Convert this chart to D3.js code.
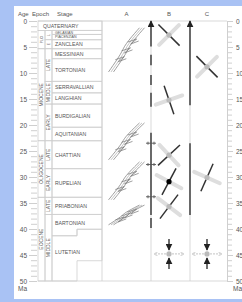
<!DOCTYPE html>
<html lang="en">
<head>
<meta charset="UTF-8">
<title>Stress history</title>
<script src="https://d3js.org/d3.v7.min.js"></script>
<style>
  body { margin: 0; background: #a9c2f4; font-family: 'Liberation Sans', Arial, sans-serif; }
  svg { display: block; }
</style>
</head>
<body>
<svg id="chart" width="242" height="302"></svg>
<script>
// ---- data ----
const majorTicks = [0, 5, 10, 15, 20, 25, 30, 35, 40, 45, 50];
const minorTicks = d3.range(0, 51, 1);

const quaternaryBase = 1.806;
const stageNames = ['GELASIAN','PIACENZIAN','ZANCLEAN','MESSINIAN','TORTONIAN','SERRAVALLIAN','LANGHIAN',
                    'BURDIGALIAN','AQUITANIAN','CHATTIAN','RUPELIAN','PRIABONIAN','BARTONIAN','LUTETIAN'];
const stageBase    = [2.588, 3.6, 5.332, 7.246, 11.608, 13.82, 15.97, 20.43, 23.03, 28.4, 33.9, 37.2, 41.3, 50];
const stageBaseAlt = [2.588, 3.6, 5.332, 7.246, 11.608, 13.82, 15.97, 20.43, 23.03, 28.4, 33.9, 37.2, 40.05, 46.1];

const epochNames = ['PLIO', 'MIOCENE', 'OLIGOCENE', 'EOCENE'];
const epochTop   = [1.806, 5.332, 23.03, 33.9];
const epochBase  = [5.332, 23.03, 33.9, 50];

const subNames = ['L', 'E', 'LATE', 'MIDDLE', 'EARLY', 'LATE', 'EARLY', 'LATE', 'MIDDLE'];
const subTop   = [1.806, 3.6, 5.332, 11.608, 15.97, 23.03, 28.4, 33.9, 37.2];
const subBase  = [3.6, 5.332, 11.608, 15.97, 23.03, 28.4, 33.9, 37.2, 50];

// column B / C trace pieces [from, to] in Ma
const traceB = [[0, 4.9], [6.5, 8.5], [10.4, 12.3], [13.8, 16.5], [21.5, 37.3], [37.9, 39.8]];
const traceC = [[0, 16.2], [23.5, 37.3]];
const barAgesB = [23.5, 27.6, 33.8];

// stress crosses: column, age, tilt of compression (deg from vertical), dot colour
const crossCol  = ['B', 'B', 'B', 'B', 'B', 'C', 'C'];
const crossAge  = [2.7, 15.2, 25.8, 30.9, 35.7, 8.8, 30.1];
const crossTilt = [-45, -19, 47, 28, 37, -45, 24];
const crossDot  = ['#bbb', '#bbb', '#bbb', '#000', '#bbb', '#bbb', '#bbb'];

// vertical-compression symbols at the base
const flatCol = ['B', 'C'];
const flatAge = [44.8, 44.8];

// column A sketches: top age, base age
const sketchTop  = [1.3, 19.6, 27.1, 35.4];
const sketchBase = [9.8, 26.7, 34.4, 39.2];

// ---- layout ----
const svg = d3.select('#chart');
const y = d3.scaleLinear().domain([0, 50]).range([21, 281]);
const X = { epoch: 38, sub: 45, stage: 52, mid: 77, A: 102, B: 151, C: 190, R: 227 };
const colCenter = { A: (X.A + X.B) / 2, B: (X.B + X.C) / 2 - 1.5, C: (X.C + X.R) / 2 - 1.5 };
const grid = '#cfcfcf', ink = '#555';

svg.append('rect').attr('x', 14).attr('y', 6).attr('width', 228).attr('height', 293).attr('fill', '#fff');

// headers
const head = svg.append('g').attr('font-size', 6).attr('fill', ink);
head.append('text').attr('x', 18).attr('y', 16).text('Age');
head.append('text').attr('x', 32).attr('y', 16).text('Epoch');
head.append('text').attr('x', 57).attr('y', 16).text('Stage');
['A', 'B', 'C'].forEach(c => head.append('text').attr('x', colCenter[c]).attr('y', 16)
  .attr('text-anchor', 'middle').text(c));

// axes
const axL = svg.append('g').attr('transform', `translate(${X.epoch - 1},0)`)
  .call(d3.axisLeft(y).tickValues(minorTicks).tickSize(6).tickFormat(''));
const axL2 = svg.append('g').attr('transform', `translate(${X.epoch - 1},0)`)
  .call(d3.axisLeft(y).tickValues(majorTicks).tickSize(8).tickPadding(2));
const axR = svg.append('g').attr('transform', `translate(${X.R},0)`)
  .call(d3.axisRight(y).tickValues(minorTicks).tickSize(5).tickFormat(''));
const axR2 = svg.append('g').attr('transform', `translate(${X.R},0)`)
  .call(d3.axisRight(y).tickValues(majorTicks).tickSize(6).tickPadding(3));
[axL, axL2].forEach(a => a.select('.domain').remove());
[axL, axL2, axR, axR2].forEach(a => {
  a.selectAll('line,path').attr('stroke', grid);
  a.selectAll('text').attr('fill', ink).attr('font-size', 6.5).attr('font-family', 'Liberation Sans, Arial');
});
svg.append('text').attr('x', 18).attr('y', 291).attr('font-size', 6.5).attr('fill', ink).text('Ma');
svg.append('text').attr('x', 233).attr('y', 291).attr('font-size', 6.5).attr('fill', ink).text('Ma');

// time-scale cells
const ts = svg.append('g').attr('fill', 'none').attr('stroke', grid).attr('stroke-width', 0.8);
ts.append('rect').attr('x', X.epoch).attr('y', y(0)).attr('width', X.A - X.epoch).attr('height', y(quaternaryBase) - y(0));
epochNames.forEach((n, i) => ts.append('rect').attr('x', X.epoch).attr('y', y(epochTop[i]))
  .attr('width', X.sub - X.epoch).attr('height', y(epochBase[i]) - y(epochTop[i])));
subNames.forEach((n, i) => ts.append('rect').attr('x', X.sub).attr('y', y(subTop[i]))
  .attr('width', X.stage - X.sub).attr('height', y(subBase[i]) - y(subTop[i])));
stageNames.forEach((n, i) => {
  const tL = i ? stageBase[i - 1] : quaternaryBase, tR = i ? stageBaseAlt[i - 1] : quaternaryBase;
  ts.append('path').attr('d',
    `M${X.stage},${y(tL)}H${X.mid}V${y(tR)}H${X.A}V${y(stageBaseAlt[i])}H${X.mid}V${y(stageBase[i])}H${X.stage}Z`);
});

// frame and column lines
const fr = svg.append('g').attr('stroke', grid).attr('stroke-width', 0.8);
fr.append('line').attr('x1', X.epoch).attr('x2', X.R).attr('y1', y(0)).attr('y2', y(0));
fr.append('line').attr('x1', X.epoch).attr('x2', X.R).attr('y1', y(50)).attr('y2', y(50));
[X.A, X.B, X.C].forEach(x => fr.append('line').attr('x1', x).attr('x2', x).attr('y1', y(0)).attr('y2', y(50)));

// labels
const lab = svg.append('g').attr('fill', ink).attr('font-family', 'Liberation Sans, Arial');
lab.append('text').attr('x', 43).attr('y', y(quaternaryBase / 2) + 2).attr('font-size', 5.2).text('QUATERNARY');
stageNames.forEach((n, i) => {
  const tL = i ? stageBase[i - 1] : quaternaryBase, tR = i ? stageBaseAlt[i - 1] : quaternaryBase;
  const mid = (tL + tR + stageBase[i] + stageBaseAlt[i]) / 4;
  const small = i < 2;
  lab.append('text').attr('x', 55).attr('y', y(mid) + (small ? 1.3 : 2))
    .attr('font-size', small ? 3.6 : 5.2).text(n);
});
const vlabel = (x, t0, t1, txt, fs) => lab.append('text')
  .attr('transform', `translate(${x},${y((t0 + t1) / 2)}) rotate(-90)`)
  .attr('text-anchor', 'middle').attr('dy', fs * 0.35).attr('font-size', fs).text(txt);
epochNames.forEach((n, i) => vlabel((X.epoch + X.sub) / 2, epochTop[i], epochBase[i], n, i ? 5 : 3.2));
subNames.forEach((n, i) => vlabel((X.sub + X.stage) / 2, subTop[i], subBase[i], n, i > 1 ? 5 : 3.2));

// markers
const defs = svg.append('defs');
defs.append('marker').attr('id', 'ah').attr('viewBox', '0 0 10 10').attr('refX', 9).attr('refY', 5)
  .attr('markerWidth', 5).attr('markerHeight', 5).attr('orient', 'auto-start-reverse')
  .append('path').attr('d', 'M0,0L10,5L0,10Z').attr('fill', '#222');
defs.append('marker').attr('id', 'ahl').attr('viewBox', '0 0 10 10').attr('refX', 9).attr('refY', 5)
  .attr('markerWidth', 4).attr('markerHeight', 4).attr('orient', 'auto-start-reverse')
  .append('path').attr('d', 'M0,0L10,5L0,10').attr('fill', 'none').attr('stroke', '#c8c8c8').attr('stroke-width', 1.5);

// traces in B and C
const drawTrace = (pieces, x) => pieces.forEach((p, i) => {
  const l = svg.append('line').attr('x1', x).attr('x2', x).attr('y1', y(p[1])).attr('y2', y(p[0]))
    .attr('stroke', '#333').attr('stroke-width', 1.4);
  if (i === 0) l.attr('marker-end', 'url(#ah)');
});
drawTrace(traceB, X.B);
drawTrace(traceC, X.C);
barAgesB.forEach(a => {
  const g = svg.append('g').attr('stroke', '#555').attr('stroke-width', 0.9);
  g.append('line').attr('x1', X.B - 5).attr('x2', X.B + 5).attr('y1', y(a)).attr('y2', y(a));
  [-3, 3].forEach(d => g.append('line').attr('x1', X.B + d).attr('x2', X.B + d).attr('y1', y(a) - 1.5).attr('y2', y(a) + 1.5));
});

// stress crosses
crossAge.forEach((a, i) => {
  const cx = colCenter[crossCol[i]], cy = y(a), t = crossTilt[i] * Math.PI / 180;
  const dx = Math.sin(t), dy = -Math.cos(t);
  const g = svg.append('g');
  g.append('line').attr('x1', cx + dy * 14).attr('y1', cy - dx * 14).attr('x2', cx - dy * 14).attr('y2', cy + dx * 14)
    .attr('stroke', '#dedede').attr('stroke-width', 4).attr('stroke-linecap', 'round');
  g.append('line').attr('x1', cx + dx * 15).attr('y1', cy + dy * 15).attr('x2', cx - dx * 15).attr('y2', cy - dy * 15)
    .attr('stroke', '#333').attr('stroke-width', 1.5);
  g.append('circle').attr('cx', cx).attr('cy', cy).attr('r', 2.6).attr('fill', crossDot[i]);
});

// vertical compression symbols
flatAge.forEach((a, i) => {
  const cx = colCenter[flatCol[i]], cy = y(a);
  const g = svg.append('g');
  [-1, 1].forEach(s => g.append('line').attr('x1', cx + s * 3).attr('x2', cx + s * 15).attr('y1', cy).attr('y2', cy)
    .attr('stroke', '#d0d0d0').attr('stroke-width', 1.2).attr('stroke-dasharray', '2,1').attr('marker-end', 'url(#ahl)'));
  [-1, 1].forEach(s => g.append('line').attr('x1', cx).attr('x2', cx).attr('y1', cy + s * 15).attr('y2', cy + s * 4)
    .attr('stroke', '#333').attr('stroke-width', 1.4).attr('marker-end', 'url(#ah)'));
  g.append('circle').attr('cx', cx).attr('cy', cy).attr('r', 2.6).attr('fill', '#bbb');
});

// column A sketches: en-echelon bands rising to the right
const band = d3.line().curve(d3.curveBasis);
sketchTop.forEach((t, i) => {
  const y0 = y(t), y1 = y(sketchBase[i]);
  const x0 = X.A + 9, x1 = X.B - 9;
  const g = svg.append('g').attr('fill', 'none').attr('stroke', '#777').attr('stroke-width', 0.7);
  [-2.5, 0, 2.5].forEach((o, k) => {
    const pts = [[x0 + o, y1], [x0 + (x1 - x0) * 0.35 + o + 3, y1 - (y1 - y0) * 0.45],
                 [x0 + (x1 - x0) * 0.6 + o - 3, y1 - (y1 - y0) * 0.6], [x1 + o, y0]];
    g.append('path').attr('d', band(pts)).attr('stroke', k === 1 ? '#aaa' : '#777');
  });
  d3.range(3).forEach(k => {
    const f = 0.3 + k * 0.2, cx = x0 + (x1 - x0) * f, cy = y1 - (y1 - y0) * f;
    g.append('path').attr('d', `M${cx - 5},${cy + 1}L${cx + 4},${cy - 2}L${cx - 2},${cy + 3}L${cx + 6},${cy}`);
  });
});
</script>
</body>
</html>
